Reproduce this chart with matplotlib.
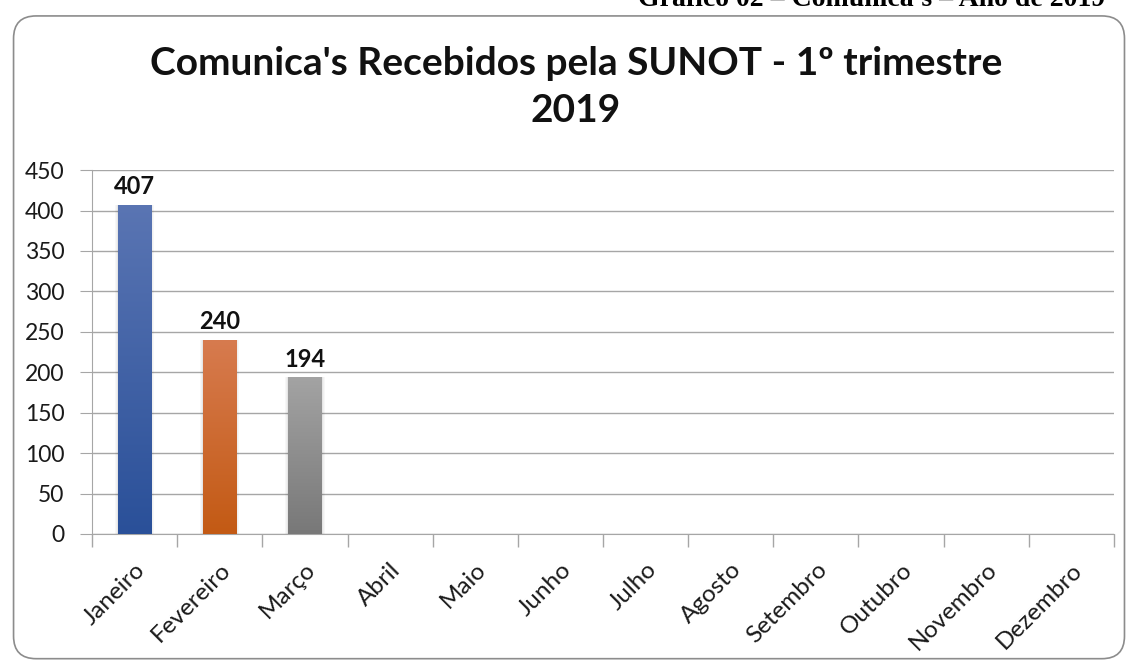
import matplotlib.pyplot as plt
import numpy as np
from matplotlib.patches import FancyBboxPatch
from matplotlib.colors import to_rgb

# Data
meses = ['Janeiro', 'Fevereiro', 'Março', 'Abril', 'Maio', 'Junho', 'Julho',
         'Agosto', 'Setembro', 'Outubro', 'Novembro', 'Dezembro']
valores = [407, 240, 194]
cores_topo = ['#5a75b3', '#d77b4f', '#a3a3a3']
cores_base = ['#2a5099', '#c35a14', '#787878']

plt.rcParams['font.family'] = ['Lato', 'DejaVu Sans']

fig = plt.figure(figsize=(11.29, 6.64), dpi=100)
ax = fig.add_axes([0.0815, 0.1958, 0.9052, 0.548])

# Rounded frame around the chart
frame = FancyBboxPatch((0.012, 0.008), 0.984, 0.968, boxstyle='round,pad=0,rounding_size=0.02',
                       transform=fig.transFigure, facecolor='none', edgecolor='#8c8c8c',
                       linewidth=1.2, mutation_aspect=1129/664)
fig.patches.append(frame)

# Caption of the page, cut off at the top as in the original
fig.text(0.565, 0.991, "Gráfico 02 – Comunica's – Ano de 2019", fontsize=20, fontweight='bold',
         family='Liberation Serif', ha='left', va='baseline')

x = np.arange(len(meses))
largura = 0.39
barras = ax.bar(x[:len(valores)], valores, width=largura, color='none', zorder=3)

# Gradient fill for each bar
grad = np.linspace(0, 1, 256).reshape(-1, 1)
for b, ct, cb in zip(barras, cores_topo, cores_base):
    c1 = np.array(to_rgb(cb))
    c2 = np.array(to_rgb(ct))
    img = c1 + grad[..., None] * (c2 - c1)
    x0, w, h = b.get_x(), b.get_width(), b.get_height()
    im = ax.imshow(img, extent=[x0, x0 + w, 0, h], origin='lower', aspect='auto', zorder=3)
    im.set_clip_path(b)
    # soft shadow on both sides
    for k, a in enumerate([0.10, 0.06, 0.03]):
        for lado in (-1, 1):
            xc = x0 + w / 2 + lado * (w / 2 + 0.012 * (k + 0.5))
            ax.bar(xc, h, width=0.012, color='black', alpha=a, zorder=2)
    ax.text(x0 + w / 2, h + 8, str(int(h)), ha='center', va='bottom',
            fontsize=17, fontweight='bold', color='#111111', zorder=4)

ax.set_xlim(-0.5, len(meses) - 0.5)
ax.set_ylim(0, 450)
ax.set_yticks(range(0, 451, 50))
ax.yaxis.grid(True, color='#a6a6a6', linewidth=1)
ax.set_axisbelow(True)

ax.set_xticks(x)
ax.set_xticklabels(meses, rotation=45, ha='right', rotation_mode='anchor', fontsize=17.5,
                   color='#1a1a1a')
ax.tick_params(axis='x', length=0, pad=18)
ax.set_xticks(np.arange(-0.5, len(meses)), minor=True)
ax.tick_params(axis='x', which='minor', length=9, color='#a6a6a6', width=1)
ax.tick_params(axis='y', length=9, color='#a6a6a6', labelsize=16.5, pad=11,
               labelcolor='#1a1a1a')

for s in ['top', 'right']:
    ax.spines[s].set_visible(False)
ax.spines['bottom'].set_color('#a6a6a6')
ax.spines['left'].set_color('#a6a6a6')

fig.text(0.51, 0.905, "Comunica's Recebidos pela SUNOT - 1º trimestre", ha='center',
         va='center', fontsize=28, fontweight='bold', color='#111111')
fig.text(0.51, 0.833, "2019", ha='center', va='center', fontsize=28, fontweight='bold',
         color='#111111')

fig.savefig('out.png', dpi=100)
